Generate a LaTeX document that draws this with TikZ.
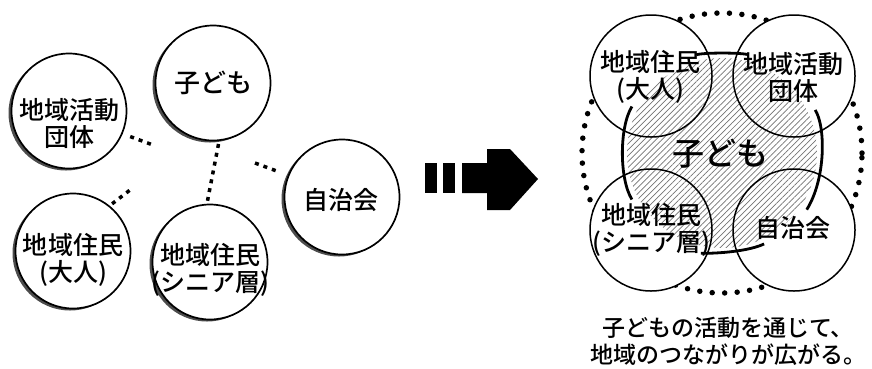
\documentclass[tikz,border=0pt]{standalone}
\usepackage{fontspec}
\setmainfont{Noto Sans CJK JP}[BoldFont={Noto Sans CJK JP Medium}]
\usetikzlibrary{calc,shadows,patterns.meta}
\begin{document}
\begin{tikzpicture}[x=1pt,y=-1pt,
  bubble/.style={circle,draw,line width=1.7pt,fill=white,minimum size=115pt,inner sep=0pt,
    drop shadow={shadow xshift=-3pt,shadow yshift=-2pt,fill=black!70,opacity=1}},
  disc/.style={circle,fill=white,minimum size=122pt,inner sep=0pt},
  txt/.style={align=center,inner sep=0pt,font=\bfseries\fontsize{25}{27}\selectfont},
  dots/.style={line width=3.5pt,dash pattern=on 4pt off 5pt},
  bond/.style={line width=2.8pt},
  ring/.style={line width=5.5pt,line cap=round,dash pattern=on 0pt off 12.5pt}]
\useasboundingbox (0,0) rectangle (872,368);
\coordinate (l1) at (213,83);
\coordinate (l2) at (69,111);
\coordinate (l3) at (342,197);
\coordinate (l4) at (73,251);
\coordinate (l5) at (210,262);
\coordinate (d1) at (153,145);
\coordinate (d3) at (255,163);
\coordinate (d4) at (130,190);
\coordinate (hub) at (722,153);
\coordinate (r1) at (651,76);
\coordinate (r2) at (794,76);
\coordinate (r3) at (651,230);
\coordinate (r4) at (794,230);

  \node (kodomo) at (l1) [bubble] {};
  \node (dantai) at (l2) [bubble] {};
  \node (jichikai) at (l3) [bubble] {};
  \node (otona) at (l4) [bubble] {};
  \node (senior) at (l5) [bubble] {};
  \node at (l1) [txt,font=\bfseries\fontsize{26}{28}\selectfont] {子ども};
  \node at ($(l2)+(0,12)$) [txt] {地域活動\\団体};
  \node at ($(l3)+(-1,3)$) [txt] {自治会};
  \node at ($(l4)+(0,9)$) [txt] {地域住民\\(大人)};
  \node at ($(l5)+(0,8)$) [txt] {地域住民\\(シニア層)};
  \draw[dots, shorten <=8pt] (dantai.-23) -- (d1);
  \draw[dots, shorten <=3pt, shorten >=3pt] (kodomo.-84) -- (senior.93);
  \draw[dots, shorten >=10pt] (d3) -- (jichikai.158);
  \draw[dots, shorten <=3pt] (otona.51) -- (d4);

  % arrow
  \fill (425,163) rectangle (437,193);
  \fill (443,163) rectangle (455,193);
  \fill (462,163) -- (487,163) -- (487,149) -- (510,149) -- (538,179) -- (510,210)
    -- (487,210) -- (487,193) -- (462,193) -- cycle;

  \draw[ring] (hub) circle[radius=140pt];
  \node (ro) at (r1) [disc] {};
  \node (rd) at (r2) [disc] {};
  \node (rs) at (r3) [disc] {};
  \node (rj) at (r4) [disc] {};
  \fill[pattern={Lines[angle=45,distance=4.2pt,line width=0.7pt]},pattern color=black!55]
    (hub) circle[radius=95pt];
  \foreach \n in {ro,rd,rs,rj}
    \draw[line width=1.5pt] (\n.center) circle[radius=61pt];
  \draw[bond, shorten <=50pt, shorten >=50pt] (ro.center) to[bend left=25] (rd.center);
  \draw[bond, shorten <=36pt, shorten >=36pt] (ro.center) to[bend right=32] (rs.center);
  \draw[bond, shorten <=40pt, shorten >=24pt] (rd.center) to[bend left=32] (rj.center);
  \draw[bond, shorten <=55pt, shorten >=33pt] (rs.center) to[bend right=25] (rj.center);
  \node at ($(r1)+(-1,1)$) [txt] {地域住民\\(大人)};
  \node at ($(r2)+(-1,1)$) [txt] {地域活動\\団体};
  \node at (r3) [txt] {地域住民\\(シニア層)};
  \node at ($(r4)+(-1,-2)$) [txt] {自治会};
  \node at ($(hub)+(-2,1)$) [txt,font=\bfseries\fontsize{32}{36}\selectfont] {子ども};
  \node (caption) at (728,341) [txt,font=\bfseries\fontsize{23}{27}\selectfont] {子どもの活動を通じて、\\地域のつながりが広がる。};
\end{tikzpicture}
\end{document}
